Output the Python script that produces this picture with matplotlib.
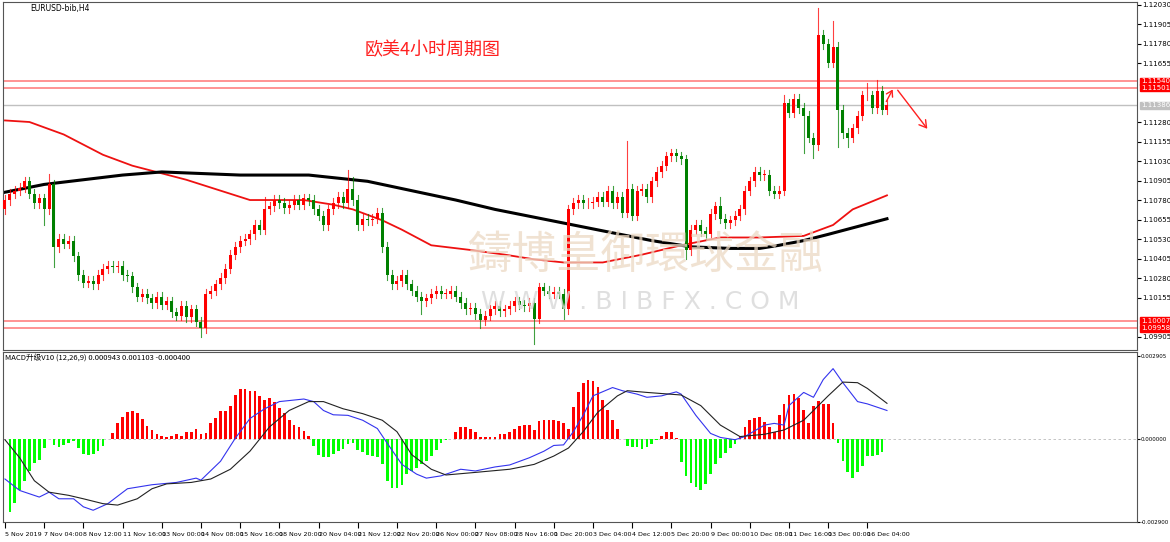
import matplotlib
matplotlib.use("Agg")
import matplotlib.pyplot as plt
from matplotlib.patches import Rectangle
import numpy as np

W, H = 1170, 542
FAM = ['Noto Sans CJK SC', 'DejaVu Sans']

closes = [1.1078,1.1082,1.1084,1.1086,1.1090,1.1082,1.1076,1.1079,1.1072,1.1088,
 1.1048,1.1053,1.1050,1.1052,1.1042,1.1030,1.1025,1.1026,1.1024,1.1030,
 1.1034,1.1036,1.1035,1.1036,1.1030,1.1029,1.1022,1.1016,1.1018,1.1015,
 1.1012,1.1016,1.1011,1.1013,1.1006,1.1004,1.1010,1.1003,1.1008,1.1000,
 1.0996,1.1018,1.1020,1.1024,1.1028,1.1034,1.1043,1.1048,1.1052,1.1053,
 1.1056,1.1062,1.1059,1.1072,1.1074,1.1078,1.1076,1.1073,1.1075,1.1078,
 1.1075,1.1079,1.1078,1.1072,1.1068,1.1062,1.1072,1.1076,1.1080,1.1076,
 1.1085,1.1078,1.1062,1.1066,1.1065,1.1066,1.1070,1.1048,1.1030,1.1024,
 1.1026,1.1030,1.1024,1.1020,1.1016,1.1013,1.1015,1.1018,1.1020,1.1018,
 1.1018,1.1020,1.1016,1.1012,1.1008,1.1009,1.1005,1.1001,1.1004,1.1008,
 1.1010,1.1007,1.1008,1.1010,1.1013,1.1011,1.1010,1.1012,1.1002,1.1022,
 1.1020,1.1018,1.1019,1.1018,1.1008,1.1072,1.1076,1.1078,1.1076,1.1076,
 1.1077,1.1080,1.1077,1.1084,1.1076,1.1080,1.1070,1.1085,1.1068,1.1084,
 1.1085,1.1080,1.1090,1.1096,1.1100,1.1106,1.1108,1.1106,1.1104,1.1046,
 1.1059,1.1062,1.1058,1.1056,1.1069,1.1074,1.1066,1.1063,1.1065,1.1068,
 1.1072,1.1084,1.1090,1.1096,1.1094,1.1094,1.1084,1.1082,1.1084,1.1140,
 1.1134,1.1143,1.1137,1.1132,1.1118,1.1113,1.1184,1.1178,1.1166,1.1176,
 1.1136,1.1121,1.1118,1.1124,1.1132,1.1145,1.1145,1.1137,1.1148,1.1136,
 1.1139]
first_open = 1.1072
highs_noted = {9: 1.1095, 70: 1.1097, 71: 1.1093, 53: 1.1080, 127: 1.1116, 146: 1.1080,
               166: 1.1201, 169: 1.1193, 176: 1.1153, 178: 1.1155, 159: 1.1145}
lows_noted = {8: 1.1062, 10: 1.1035, 40: 1.0990, 108: 1.0986, 114: 1.1002, 139: 1.1040,
              165: 1.1105, 163: 1.1108, 170: 1.1112, 172: 1.1112, 85: 1.1005, 97: 1.0996}

red_ma_idx = [0, 5, 12, 20, 26, 37, 50, 56, 61, 67, 71, 77, 81, 87, 95, 102, 108, 114, 122, 130, 138, 146, 154, 163, 169, 173, 180]
red_ma_val = [1.1129,1.1128,1.1120,1.1107,1.1100,1.1091,1.1078,1.1078,1.1078,1.1075,1.1072,1.1065,1.1059,1.1049,1.1046,1.1043,1.1040,1.1038,1.1038,1.1043,1.1049,1.1054,1.1054,1.1055,1.1062,1.1072,1.1081]
blk_ma_idx = [0, 8, 16, 24, 32, 40, 48, 56, 62, 68, 74, 80, 86, 92, 100, 108, 116, 124, 132, 140, 148, 154, 158, 163, 168, 174, 180]
blk_ma_val = [1.1083,1.1088,1.1091,1.1094,1.1096,1.1095,1.1094,1.1094,1.1094,1.1092,1.1090,1.1086,1.1082,1.1078,1.1072,1.1067,1.1062,1.1057,1.1052,1.1048,1.1047,1.1047,1.1049,1.1052,1.1056,1.1061,1.1066]

hist_e4 = [-25.6,-22.2,-18.0,-14.6,-11.2,-8.3,-7.2,-3.2,-0.1,-2.1,-3.0,-2.1,-1.5,-0.9,-3.2,-5.2,-5.7,-5.2,-4.1,-2.6,
 -0.1,1.9,5.4,7.6,9.3,9.7,9.1,7.1,4.6,3.0,1.8,1.1,0.5,0.9,1.6,1.1,2.5,2.5,3.6,1.8,
 1.9,5.5,7.4,9.8,9.8,11.6,15.4,17.3,17.3,16.8,16.8,15.0,13.7,14.1,12.8,10.7,9.1,6.5,4.8,4.0,
 2.7,1.1,-2.6,-5.7,-6.4,-6.4,-5.2,-4.3,-3.4,-1.8,-1.5,-3.8,-4.6,-5.7,-6.0,-6.4,-8.9,-14.6,-17.1,-17.1,
 -16.0,-12.3,-11.2,-10.0,-8.9,-7.8,-6.0,-3.8,-1.5,-0.3,
 -0.1,2.5,4.2,4.2,3.3,2.5,0.6,0.5,0.5,0.7,1.8,1.8,2.5,3.5,4.6,5.0,5.0,3.1,6.2,6.6,
 6.7,6.6,6.2,5.6,3.5,11.2,16.5,19.6,20.5,20.1,18.2,13.7,10.1,6.7,3.5,-0.1,-2.4,-3.0,-3.0,-3.4,
 -2.7,-1.7,-0.3,0.9,2.3,2.5,0.2,-8.1,-12.9,-15.5,-16.9,-17.8,-15.7,-12.1,-8.9,-6.6,-4.9,-3.2,-1.8,1.1,
 4.0,6.5,7.4,7.8,5.9,4.0,2.5,8.2,12.2,15.3,15.8,14.1,9.9,5.4,11.4,13.1,12.2,12.0,5.4,-1.5,
 -7.8,-11.4,-13.5,-11.4,-9.5,-6.0,-6.0,-5.5,-4.7]

macd_idx = [0,3,7,9,11,14,16,18,21,25,30,35,39,40,44,47,50,53,56,61,63,65,67,70,73,76,78,81,84,86,
            89,93,96,100,103,107,110,112,114,116,118,120,124,126,129,131,134,137,138,141,144,146,149,151,155,157,159,160,163,165,167,169,171,174,176,180]
macd_e4 = [-14.0,-18.0,-20.3,-18.6,-20.9,-20.9,-23.7,-24.9,-22.6,-17.4,-16.0,-15.2,-13.7,-14.4,-7.8,0.2,7.1,10.5,13.0,13.9,13.0,9.9,8.4,8.2,6.5,3.6,-1.5,-8.9,-12.3,-13.7,
           -12.9,-10.6,-11.2,-9.8,-9.1,-6.6,-4.3,-2.3,-2.1,2.5,8.2,15.0,17.9,16.8,15.6,14.5,15.0,16.4,15.6,8.2,1.9,0.5,-0.3,0.8,4.8,5.4,4.8,11.6,16.2,14.5,20.7,24.5,19.6,13.0,12.2,9.9]
sig_idx = [0,3,6,9,13,16,20,23,27,30,33,38,42,46,50,54,58,62,65,69,73,77,80,83,87,
           90,96,103,108,112,115,118,121,125,127,131,138,142,146,150,155,159,163,165,168,171,174,176,180]
sig_e4 = [-0.3,-6.6,-14.6,-18.6,-19.7,-20.9,-22.6,-23.1,-20.9,-17.4,-15.7,-15.2,-14.0,-10.6,-4.3,4.2,9.9,13.0,13.0,10.5,8.8,6.5,2.5,-5.5,-10.6,
          -12.6,-11.7,-10.6,-8.9,-6.0,-3.2,2.5,9.3,15.0,16.8,16.2,15.3,11.6,4.8,0.8,1.6,3.1,6.5,9.9,15.0,19.8,19.6,17.6,12.4]

date_labels = ["5 Nov 2019","7 Nov 04:00","8 Nov 12:00","11 Nov 16:00","13 Nov 00:00","14 Nov 08:00",
 "15 Nov 16:00","18 Nov 20:00","20 Nov 04:00","21 Nov 12:00","22 Nov 20:00","26 Nov 00:00",
 "27 Nov 08:00","28 Nov 16:00","1 Dec 20:00","3 Dec 04:00","4 Dec 12:00","5 Dec 20:00",
 "9 Dec 00:00","10 Dec 08:00","11 Dec 16:00","13 Dec 00:00","16 Dec 04:00"]
red_levels = [1.11540, 1.11501, 1.10007, 1.09958]
last_price = 1.11386
price_ticks = [1.12030,1.11905,1.11780,1.11655,1.11280,1.11155,1.11030,1.10905,1.10780,
               1.10655,1.10530,1.10405,1.10280,1.10155,1.09905]
macd_ticks = [0.002905, 0.0, -0.002900]

fig = plt.figure(figsize=(W/100, H/100), dpi=100)
def ax_px(l, t, r, b):
    return fig.add_axes([l/W, 1-b/H, (r-l)/W, (b-t)/H])

ax = ax_px(3, 2, 1137, 350)
mx = ax_px(3, 352, 1137, 522)
XL = (-0.4, -0.4 + 1134/4.9)

n = len(closes)
opens = [first_open] + closes[:-1]
UP, DN = '#ff0000', '#008000'
for i in range(n):
    o, c = opens[i], closes[i]
    col = UP if c >= o else DN
    hi = highs_noted.get(i, max(o, c) + 0.0003)
    lo = lows_noted.get(i, min(o, c) - 0.0003)
    ax.plot([i, i], [lo, hi], color=col, lw=0.8, alpha=0.75, zorder=3)
    ax.add_patch(Rectangle((i-0.3, min(o, c)), 0.6, max(abs(c-o), 0.00004), color=col, lw=0, zorder=4))

ax.plot(red_ma_idx, red_ma_val, color='#ee1111', lw=1.3, zorder=2)
ax.plot(blk_ma_idx, blk_ma_val, color='#000000', lw=2.2, zorder=2)
for lv in red_levels:
    ax.axhline(lv, color='#ff8080', lw=1.2, zorder=1)
ax.axhline(last_price, color='#c0c0c0', lw=1, zorder=1)

ax.set_xlim(*XL)
ax.set_ylim(1.09819, 1.12049)
ax.yaxis.tick_right()
ax.set_yticks(price_ticks)
ax.set_yticklabels([f"{v:.5f}" for v in price_ticks], fontsize=5)
ax.set_xticks([])
ax.tick_params(axis='y', length=3, pad=1, width=0.8)
for s in ax.spines.values():
    s.set_color('#555555')

def side_label(a, v, txt, fc):
    a.annotate(txt, xy=(1.0, v), xycoords=('axes fraction', 'data'), xytext=(3, 0),
               textcoords='offset points', fontsize=5, color='white', va='center', ha='left',
               bbox=dict(boxstyle='square,pad=0.1', fc=fc, ec=fc), annotation_clip=False)
for lv in red_levels:
    side_label(ax, lv, f"{lv:.5f}", '#ff0000')
side_label(ax, last_price, f"{last_price:.5f}", '#c0c0c0')

# MACD
hx = np.arange(1, len(hist_e4) + 1)
hv = np.array(hist_e4) * 1e-4
mx.bar(hx, hv, width=0.55, color=['#ff0000' if v > 0 else '#00ff00' for v in hv], zorder=2)
mx.plot(macd_idx, np.array(macd_e4)*1e-4, color='#3333ee', lw=0.8, zorder=3)
mx.plot(sig_idx, np.array(sig_e4)*1e-4, color='#222222', lw=0.8, zorder=3)
mx.axhline(0, color='#bbbbbb', lw=0.6, ls=(0, (3, 3)), zorder=1)
mx.set_xlim(*XL)
mx.set_ylim(-0.00280, 0.00303)
mx.yaxis.tick_right()
mx.set_yticks(macd_ticks)
mx.set_yticklabels([f"{v:.6f}" for v in macd_ticks], fontsize=4.0)
mx.tick_params(axis='y', length=2, pad=0.5, width=0.8)
tk = [8*k for k in range(len(date_labels))]
mx.set_xticks(tk)
mx.set_xticklabels(date_labels, fontsize=4.6, ha='left')
mx.tick_params(axis='x', length=4, pad=3, width=0.8)
for s in mx.spines.values():
    s.set_color('#555555')

# texts
fig.text(30/W, 1-8/H, "EURUSD-bib,H4", fontsize=5.5, va='center', ha='left')
fig.text(5/W, 1-358/H, "MACD升级V10 (12,26,9) 0.000943 0.001103 -0.000400", fontsize=5.5,
         va='center', ha='left', family=FAM)
fig.text(365/W, 1-50/H, "欧美4小时周期图", fontsize=13, color='#ff2020', va='center', ha='left', family=FAM)
fig.text(645/W, 1-255/H, "鑄博皇御環球金融", fontsize=32, color='#ecd9c4', va='center', ha='center',
         family=FAM, alpha=0.75, zorder=0)
fig.text(640/W, 1-302/H, "W W W . B I B F X . C O M", fontsize=18, color='#d8d8d8', va='center',
         ha='center', alpha=0.8, zorder=0)

# arrow
fig.add_artist(matplotlib.patches.FancyArrowPatch((885/W, 1-104/H), (894/W, 1-87/H),
               transform=fig.transFigure, arrowstyle='->,head_length=4,head_width=2.5', color='#ff2020', lw=1))
fig.add_artist(matplotlib.patches.FancyArrowPatch((896/W, 1-88/H), (929/W, 1-131/H),
               transform=fig.transFigure, arrowstyle='->,head_length=5,head_width=3', color='#ff2020', lw=1))

fig.savefig("out.png", dpi=100)
